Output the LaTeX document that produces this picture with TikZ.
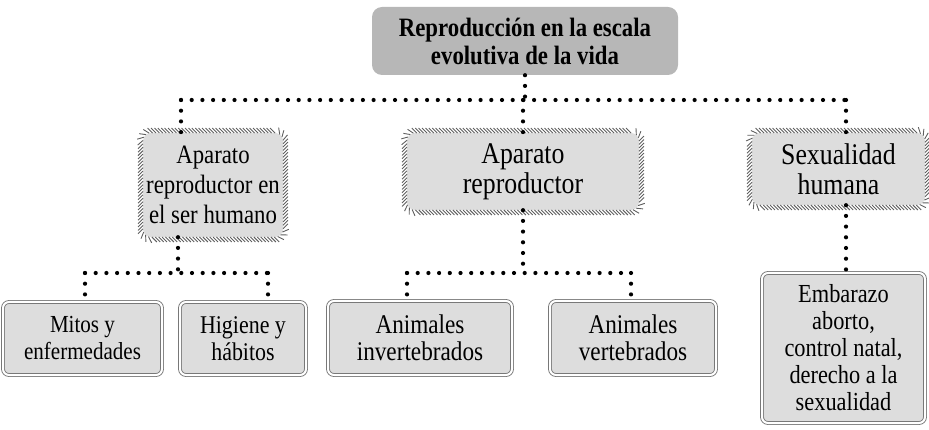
\documentclass[tikz,border=0pt]{standalone}
\usepackage{fontspec}
\setmainfont{Liberation Serif}[FakeStretch=0.86]
\usetikzlibrary{decorations.pathreplacing}
\definecolor{darkbox}{RGB}{183,183,183}
\definecolor{lightbox}{RGB}{221,221,221}
\definecolor{framegray}{RGB}{120,120,120}
\definecolor{hatchgray}{RGB}{95,95,95}

\tikzset{
  topbox/.style={rounded corners=10pt,fill=darkbox,inner sep=0pt,align=center,
    font=\fontsize{26.5}{28}\selectfont\bfseries},
  hatchbox/.style={rounded corners=8pt,fill=lightbox,inner sep=0pt,align=center,
    font=\fontsize{30}{30}\selectfont,
    postaction={draw=hatchgray,line width=0.9pt,decorate,
      decoration={border,segment length=3.4pt,amplitude=7pt,angle=-45}}},
  leafbox/.style={rounded corners=6pt,fill=lightbox,draw=framegray,double=white,
    double distance=2pt,line width=0.9pt,inner sep=0pt,align=center,
    font=\fontsize{26}{27}\selectfont},
  dotline/.style={line width=4.2pt,line cap=round,dash pattern=on 0pt off 10.7pt}
}

\begin{document}
\begin{tikzpicture}[x=1pt,y=-1pt]
			\useasboundingbox (0,0) rectangle (929,430);

			% levels
			\node[topbox,minimum width=306pt,minimum height=68pt] (root) at (525,41) {Reproducción en la escala\\evolutiva de la vida};

			\node[hatchbox,font=\fontsize{26.5}{30}\selectfont,minimum width=140pt,minimum height=104pt] (human) at (213,185) {Aparato\\reproductor en\\el ser humano};
			\node[hatchbox,minimum width=232pt,minimum height=77pt] (appar) at (523,171.5) {Aparato\\reproductor};
			\node[hatchbox,minimum width=173pt,minimum height=72pt] (sexual) at (838.5,169) {Sexualidad\\humana};

			\node[leafbox,font=\fontsize{24.5}{27}\selectfont,minimum width=159pt,minimum height=73pt] (myths) at (82.5,338.5) {Mitos y\\enfermedades};
			\node[leafbox,font=\fontsize{25.5}{27}\selectfont,minimum width=126pt,minimum height=73pt] (hygiene) at (243,338.5) {Higiene y\\hábitos};
			\node[leafbox,font=\fontsize{27}{27}\selectfont,minimum width=184pt,minimum height=74pt] (invert) at (420,338) {Animales\\invertebrados};
			\node[leafbox,font=\fontsize{27}{27}\selectfont,minimum width=166pt,minimum height=74pt] (vert) at (633,338) {Animales\\vertebrados};
			\node[leafbox,minimum width=163pt,minimum height=150pt] (preg) at (843.5,348) {Embarazo\\aborto,\\control natal,\\derecho a la\\sexualidad};

			% bus lines
			\coordinate (busA) at (181,100);
			\coordinate (busB) at (846,100);
			\coordinate (busC) at (85,273);
			\coordinate (busD) at (268,273);
			\coordinate (busE) at (407,273);
			\coordinate (busF) at (631,273);

			\draw[dotline] (root.south) -- (root.south |- busA);
			\draw[dotline] (busA) -- (busB);
			\draw[dotline] (busA) -- (busA |- human.north);
			\draw[dotline] (appar.north |- busA) -- (appar.north);
			\draw[dotline] (busB) -- (busB |- sexual.north);

			\draw[dotline] ([xshift=-35pt]human.south) -- ([xshift=-35pt]human.south |- busC);
			\draw[dotline] (busC) -- (busD);
			\draw[dotline] (busC) -- (busC |- myths.north);
			\draw[dotline] (busD) -- (busD |- hygiene.north);

			\draw[dotline] (appar.south) -- (appar.south |- busE);
			\draw[dotline] (busE) -- (busF);
			\draw[dotline] (busE) -- (busE |- invert.north);
			\draw[dotline] (busF) -- (busF |- vert.north);

			\draw[dotline] (sexual.south -| busB) -- (busB |- preg.north);
		\end{tikzpicture}
\end{document}
